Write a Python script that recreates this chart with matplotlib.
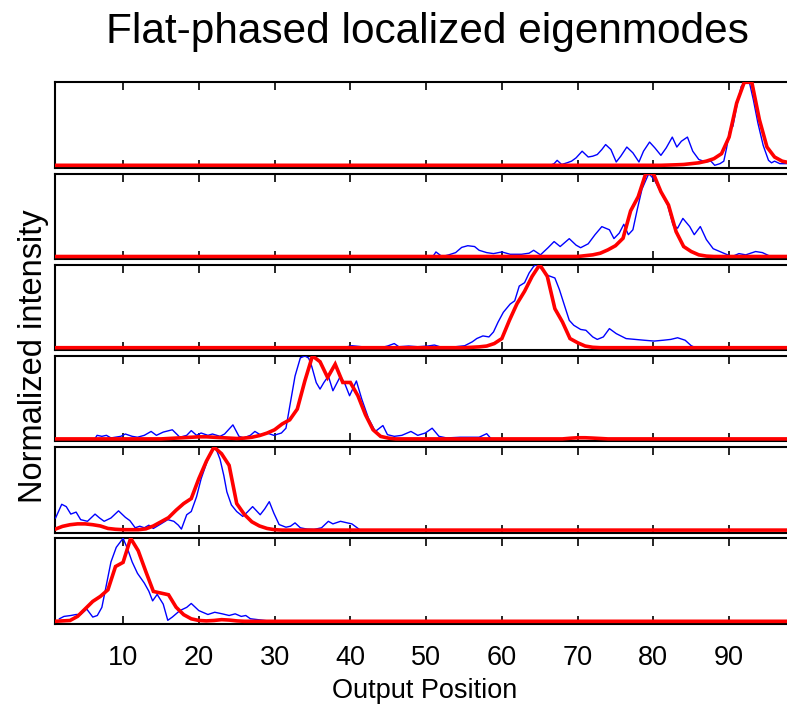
"""Stacked localized eigenmode profiles: measured (blue) vs theory (red)."""

# --------------------------------------------------
# load necessary modules
# --------------------------------------------------
import matplotlib

matplotlib.use("Agg")
import matplotlib.pyplot as plt
import numpy as np

plt.rcParams["font.family"] = ["Liberation Sans", "DejaVu Sans"]

# --------------------------------------------------
# chart data
# --------------------------------------------------
title = "Flat-phased localized eigenmodes"
x_label = "Output Position"
y_label = "Normalized intensity"
x_ticks = [10, 20, 30, 40, 50, 60, 70, 80, 90]
x_range = (1, 98)

# theory curves are sampled at integer output positions; each list starts at
# the given position and everything outside is zero
red1_start = 81
red1 = [0.0, 0.003, 0.006, 0.01, 0.02, 0.03, 0.05, 0.08, 0.14, 0.34,
        0.75, 1.0, 1.0, 0.55, 0.22, 0.1, 0.05, 0.03]
red2_start = 70
red2 = [0.0, 0.01, 0.02, 0.04, 0.08, 0.13, 0.22, 0.55, 0.72, 1.0,
        1.0, 0.78, 0.62, 0.3, 0.12, 0.06, 0.02, 0.005, 0.0]
red3_start = 55
red3 = [0.0, 0.005, 0.01, 0.02, 0.05, 0.11, 0.33, 0.53, 0.68, 0.86,
        1.0, 0.86, 0.47, 0.31, 0.11, 0.06, 0.02, 0.005, 0.0]
red4_start = 15
red4 = [0.0, 0.005, 0.01, 0.015, 0.02, 0.025, 0.025, 0.02, 0.015, 0.01,
        0.005, 0.01, 0.02, 0.04, 0.07, 0.11, 0.18, 0.23, 0.36, 0.7,
        1.0, 0.93, 0.74, 0.9, 0.68, 0.68, 0.52, 0.29, 0.11, 0.03,
        0.01, 0.0, 0.0, 0.0, 0.0, 0.0, 0.0, 0.0, 0.0, 0.0,
        0.0, 0.0, 0.0, 0.0, 0.0, 0.0, 0.0, 0.0, 0.0, 0.0,
        0.0, 0.0, 0.0, 0.0, 0.008, 0.014, 0.014, 0.01, 0.005, 0.0]
red5_start = 1
red5 = [0.01, 0.045, 0.065, 0.075, 0.075, 0.065, 0.05, 0.02, 0.01, 0.005,
        0.005, 0.005, 0.015, 0.05, 0.1, 0.15, 0.24, 0.32, 0.38, 0.62,
        0.83, 1.0, 0.92, 0.78, 0.32, 0.19, 0.1, 0.05, 0.02, 0.005, 0.0]
red6_start = 1
red6 = [0.0, 0.005, 0.01, 0.06, 0.15, 0.24, 0.3, 0.38, 0.66, 0.71,
        1.0, 0.85, 0.6, 0.36, 0.34, 0.32, 0.17, 0.08, 0.03, 0.01,
        0.005, 0.01, 0.02, 0.015, 0.005, 0.0]

# measured profiles (finely sampled)
blue1_x = [66.4, 66.9, 67.3, 67.9, 68.6, 69.2, 69.8, 70.6, 71.4, 72.0,
           72.6, 73.2, 73.7, 74.4, 75.1, 75.7, 76.5, 77.3, 78.1, 78.7,
           79.5, 80.2, 81.0, 81.7, 82.5, 83.1, 83.7, 84.5, 85.2, 86.0,
           86.9, 87.6, 88.1, 88.8, 89.3, 89.65, 90.1, 90.5, 91.0, 91.6,
           92.1, 92.7, 93.2, 93.8, 94.5, 95.2, 95.6, 96.0, 96.7, 98.0]
blue1_y = [0.0, 0.02, 0.06, 0.01, 0.03, 0.05, 0.09, 0.17, 0.10, 0.11,
           0.13, 0.19, 0.25, 0.19, 0.04, 0.11, 0.22, 0.15, 0.04, 0.17,
           0.28, 0.21, 0.12, 0.21, 0.34, 0.22, 0.29, 0.34, 0.17, 0.07,
           0.04, 0.05, 0.0, 0.02, 0.05, 0.2, 0.43, 0.47, 0.71, 0.95,
           1.0, 0.99, 0.79, 0.51, 0.24, 0.06, 0.03, 0.05, 0.02, 0.02]

blue2_x = [50.9, 51.3, 52.1, 53.0, 53.9, 54.7, 55.5, 56.4, 57.0, 58.0,
           58.9, 60.0, 61.1, 62.6, 63.6, 64.2, 65.1, 66.1, 66.9, 67.7,
           68.9, 69.8, 70.4, 71.4, 72.3, 73.2, 74.2, 74.8, 75.5, 76.1,
           76.7, 77.3, 77.9, 78.5, 79.4, 80.1, 81.0, 81.9, 82.6, 83.2,
           83.9, 84.8, 85.4, 86.2, 87.0, 87.9, 88.8, 89.8, 90.4, 91.3,
           92.2, 93.5, 94.4, 95.3, 96.3]
blue2_y = [0.0, 0.055, 0.0, 0.02, 0.047, 0.11, 0.13, 0.12, 0.075, 0.047,
           0.035, 0.055, 0.027, 0.027, 0.04, 0.075, 0.02, 0.106, 0.18, 0.12,
           0.215, 0.137, 0.106, 0.153, 0.263, 0.36, 0.322, 0.216, 0.282, 0.388,
           0.263, 0.322, 0.576, 0.812, 1.0, 0.929, 0.773, 0.616, 0.38, 0.341,
           0.459, 0.361, 0.263, 0.361, 0.204, 0.094, 0.059, 0.02, 0.0, 0.035,
           0.02, 0.06, 0.047, 0.008, 0.0]

blue3_x = [39.6, 40.2, 41.5, 44.0, 44.9, 45.8, 46.4, 47.7, 48.9, 50.2,
           51.1, 52.1, 53.9, 55.1, 56.1, 56.7, 57.5, 58.3, 58.9, 59.5,
           60.2, 61.1, 61.7, 62.3, 63.0, 63.6, 64.2, 64.5, 65.1, 66.1,
           67.0, 67.6, 68.3, 68.9, 69.5, 70.4, 71.1, 72.0, 72.6, 73.4,
           74.2, 75.1, 76.4, 77.6, 78.8, 80.1, 81.3, 82.3, 83.2, 84.2,
           85.0, 85.6]
blue3_y = [0.012, 0.024, 0.012, 0.0, 0.02, 0.05, 0.012, 0.02, 0.012, 0.02,
           0.032, 0.004, 0.012, 0.024, 0.071, 0.111, 0.142, 0.13, 0.19, 0.308,
           0.427, 0.526, 0.565, 0.743, 0.783, 0.9, 0.98, 1.0, 0.96, 0.87,
           0.84, 0.70, 0.5, 0.33, 0.27, 0.22, 0.21, 0.13, 0.1, 0.13,
           0.23, 0.17, 0.11, 0.10, 0.09, 0.08, 0.09, 0.1, 0.12, 0.09,
           0.024, 0.0]

blue4_x = [6.26, 6.57, 7.2, 7.8, 8.4, 9.7, 10.3, 11.2, 11.9, 12.8,
           13.7, 14.4, 15.3, 16.5, 17.5, 18.4, 19.0, 19.7, 20.3, 21.2,
           21.8, 22.8, 23.4, 24.5, 25.3, 25.9, 26.8, 27.4, 28.1, 29.0,
           29.9, 30.9, 31.5, 32.1, 32.7, 33.4, 34.0, 34.5, 34.9, 35.5,
           36.0, 36.5, 37.1, 37.7, 38.7, 39.3, 39.9, 40.8, 41.5, 42.4,
           43.3, 44.3, 44.9, 45.8, 46.8, 48.0, 48.9, 49.9, 50.8, 51.7,
           52.7, 54.5, 55.8, 57.0, 58.0, 58.6]
blue4_y = [0.0, 0.043, 0.031, 0.043, 0.012, 0.031, 0.059, 0.031, 0.02, 0.043,
           0.09, 0.043, 0.082, 0.11, 0.02, 0.043, 0.1, 0.043, 0.071, 0.043,
           0.059, 0.031, 0.059, 0.169, 0.031, 0.012, 0.043, 0.09, 0.051, 0.071,
           0.043, 0.071, 0.129, 0.443, 0.757, 0.976, 1.0, 0.973, 0.875, 0.678,
           0.6, 0.678, 0.757, 0.58, 0.757, 0.659, 0.52, 0.698, 0.482, 0.247,
           0.09, 0.161, 0.051, 0.031, 0.043, 0.09, 0.043, 0.071, 0.129, 0.031,
           0.012, 0.02, 0.02, 0.02, 0.063, 0.0]

blue5_x = [1.09, 1.9, 2.5, 3.1, 3.8, 4.4, 5.3, 6.3, 6.9, 7.5,
           8.4, 9.4, 10.3, 10.9, 11.6, 12.2, 12.8, 13.4, 14.0, 15.0,
           15.9, 16.7, 17.3, 17.7, 18.4, 19.0, 19.7, 20.3, 21.2, 21.8,
           22.3, 22.8, 23.3, 23.7, 24.3, 25.0, 25.8, 26.4, 27.1, 28.1,
           28.7, 29.3, 29.9, 30.6, 31.5, 32.1, 32.7, 33.4, 34.3, 35.2,
           36.2, 37.1, 37.7, 38.7, 39.6, 40.2, 41.2]
blue5_y = [0.146, 0.311, 0.283, 0.193, 0.217, 0.126, 0.106, 0.193, 0.146, 0.106,
           0.146, 0.232, 0.154, 0.114, 0.028, 0.047, 0.028, 0.059, 0.02, 0.075,
           0.126, 0.106, 0.059, 0.012, 0.185, 0.224, 0.402, 0.618, 0.854, 0.98,
           0.972, 0.854, 0.657, 0.461, 0.303, 0.224, 0.165, 0.217, 0.283, 0.185,
           0.256, 0.343, 0.205, 0.067, 0.035, 0.047, 0.087, 0.028, 0.012, 0.008,
           0.028, 0.106, 0.075, 0.106, 0.087, 0.075, 0.008]

blue6_x = [1.6, 2.2, 3.1, 3.8, 4.4, 5.2, 6.0, 6.6, 7.2, 7.8,
           8.4, 9.1, 10.0, 10.6, 11.2, 11.9, 12.8, 13.4, 13.9, 14.5,
           15.3, 15.9, 16.5, 17.5, 18.4, 19.0, 20.0, 21.2, 22.1, 23.1,
           24.0, 24.8, 25.6, 26.2, 26.8, 27.8, 29.6]
blue6_y = [0.031, 0.059, 0.07, 0.082, 0.082, 0.148, 0.051, 0.07, 0.168, 0.441,
           0.715, 0.891, 1.0, 0.871, 0.715, 0.578, 0.461, 0.363, 0.246, 0.324,
           0.207, 0.012, 0.051, 0.129, 0.168, 0.215, 0.129, 0.082, 0.109, 0.09,
           0.07, 0.09, 0.059, 0.07, 0.031, 0.02, 0.0]

# --------------------------------------------------
# assemble panels (top to bottom)
# --------------------------------------------------
positions = np.arange(x_range[0], x_range[1] + 1)


def _full_curve(start: int, values: list[float]) -> np.ndarray:
    """Place a theory segment on the full integer grid (zeros elsewhere)."""
    curve = np.zeros(len(positions))
    i0 = start - x_range[0]
    curve[i0:i0 + len(values)] = values
    return curve


panels = [
    (blue1_x, blue1_y, _full_curve(red1_start, red1)),
    (blue2_x, blue2_y, _full_curve(red2_start, red2)),
    (blue3_x, blue3_y, _full_curve(red3_start, red3)),
    (blue4_x, blue4_y, _full_curve(red4_start, red4)),
    (blue5_x, blue5_y, _full_curve(red5_start, red5)),
    (blue6_x, blue6_y, _full_curve(red6_start, red6)),
]

# --------------------------------------------------
# figure layout in pixels (787 x 706)
# --------------------------------------------------
W, H = 787, 706
fig = plt.figure(figsize=(W / 100, H / 100), dpi=100)

left_px, right_px = 54.9, 789.7
top_px, step_px, height_px = 82.3, 91.2, 85.5

for i, (bx, by, red) in enumerate(panels):
    top = top_px + i * step_px
    ax = fig.add_axes([left_px / W, 1 - (top + height_px) / H,
                       (right_px - left_px) / W, height_px / H])
    ax.plot(bx, by, color="#0000ff", lw=1.0, zorder=2)
    ax.plot(positions, red, color="#ff0000", lw=2.6, zorder=3,
            solid_joinstyle="miter")
    ax.set_xlim(*x_range)
    ax.set_ylim(-0.03, 1.0)
    ax.set_xticks(x_ticks)
    ax.set_yticks([])
    ax.tick_params(axis="x", direction="in", top=True, bottom=True,
                   length=5.5, width=1.2, pad=15.5, labelsize=19.5,
                   labelbottom=(i == len(panels) - 1))
    for spine in ax.spines.values():
        spine.set_linewidth(1.5)
        spine.set_zorder(1)

# --------------------------------------------------
# titles and labels
# --------------------------------------------------
fig.text(427 / W, 1 - 43 / H, title, ha="center", va="baseline", fontsize=30.5)
fig.text(425 / W, 1 - 678 / H, x_label, ha="center", va="top", fontsize=19.5)
fig.text(33.5 / W, 1 - 356.5 / H, y_label, ha="center", va="center",
         rotation=90, fontsize=23.5)

fig.savefig("out.png", dpi=100)
